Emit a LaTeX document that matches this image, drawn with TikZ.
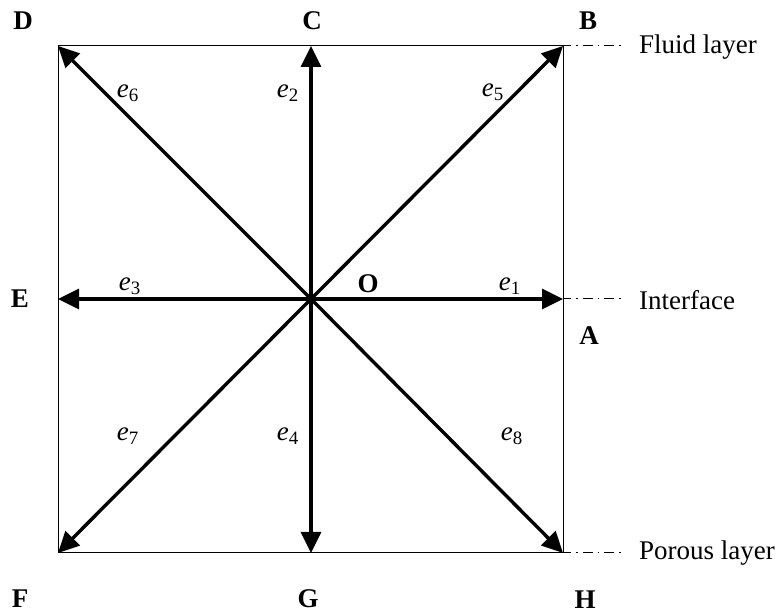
\documentclass[tikz,border=0pt]{standalone}
\usepackage{fontspec}
\setmainfont{Liberation Serif}
\usetikzlibrary{arrows.meta}

\tikzset{
  vec/.style={line width=1.7pt, -{Triangle[length=10.5pt,width=10pt]}},
  pt/.style={font=\fontsize{13.5}{16}\selectfont\bfseries},
  lbl/.style={font=\fontsize{13.5}{16}\selectfont},
  layer/.style={line width=0.5pt, dash pattern=on 5pt off 2.5pt on 0.8pt off 2.5pt, dash phase=1pt}
}
\newcommand{\ev}[1]{\textit{e}\textsubscript{#1}}

\begin{document}
\begin{tikzpicture}[x=0.5pt, y=-0.5pt]
    \useasboundingbox (0,0) rectangle (776,613);

    % Box and lattice points
    \coordinate (O) at (311,299);
    \coordinate (pA) at (563,299);
    \coordinate (pB) at (563,46);
    \coordinate (pC) at (311,46);
    \coordinate (pD) at (58,46);
    \coordinate (pE) at (58,299);
    \coordinate (pF) at (58,553);
    \coordinate (pG) at (311,553);
    \coordinate (pH) at (563,553);
    \draw[line width=0.5pt] (pD) rectangle (pH);

    % Velocity directions
    \draw[vec] (O) -- (pA);
    \draw[vec] (O) -- (pC);
    \draw[vec] (O) -- (pE);
    \draw[vec] (O) -- (pG);
    \draw[vec] (O) -- (pB);
    \draw[vec] (O) -- (pD);
    \draw[vec] (O) -- (pF);
    \draw[vec] (O) -- (pH);

    \node[lbl] (e1) at (510,286) {\ev{1}};
    \node[lbl] (e2) at (288,93) {\ev{2}};
    \node[lbl] (e3) at (130,286) {\ev{3}};
    \node[lbl] (e4) at (288,436) {\ev{4}};
    \node[lbl] (e5) at (493,92) {\ev{5}};
    \node[lbl] (e6) at (128,93) {\ev{6}};
    \node[lbl] (e7) at (128,436) {\ev{7}};
    \node[lbl] (e8) at (512,436) {\ev{8}};

    % Point labels
    \node[pt] (lO) at (368,284) {O};
    \node[pt] (lA) at (589,336) {A};
    \node[pt] (lB) at (588,21) {B};
    \node[pt] (lC) at (312,21) {C};
    \node[pt] (lD) at (23,21) {D};
    \node[pt] (lE) at (20,299) {E};
    \node[pt] (lF) at (20,599) {F};
    \node[pt] (lG) at (308,599) {G};
    \node[pt] (lH) at (585,600) {H};

    % Layers
    \coordinate (fl) at (625,46);
    \coordinate (in) at (625,299);
    \coordinate (po) at (625,553);
    \draw[layer] (pB) -- (fl);
    \draw[layer] (pA) -- (in);
    \draw[layer] (pH) -- (po);
    \node[lbl, anchor=west] (tf) at (632,47) {Fluid layer};
    \node[lbl, anchor=west] (ti) at (632,300) {Interface};
    \node[lbl, anchor=west] (tp) at (632,553) {Porous layer};
\end{tikzpicture}
\end{document}
